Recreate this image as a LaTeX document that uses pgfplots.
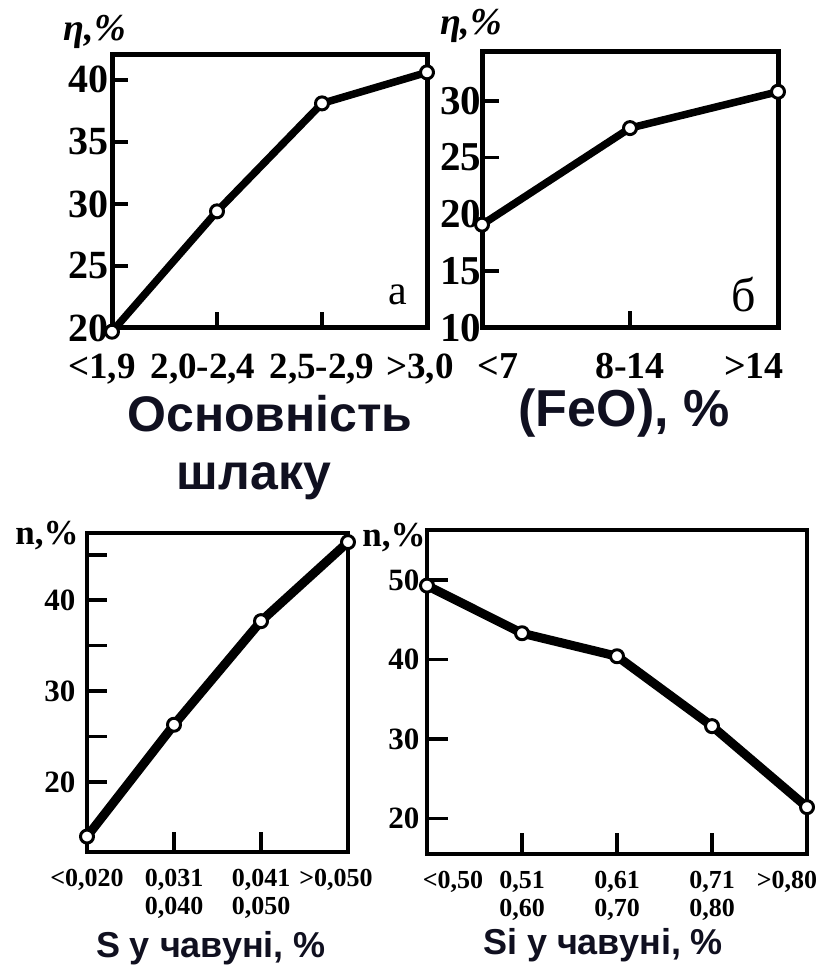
\documentclass[border=0pt]{standalone}
\usepackage{fontspec}
\setmainfont{Liberation Serif}
\newfontfamily\sansf{Liberation Sans}
\usepackage{pgfplots}
\pgfplotsset{compat=1.18}
\definecolor{titlecol}{HTML}{101020}

% one panel of the figure: box, inward ticks, bold serif numbers
\pgfplotsset{
  panel/.style={
    scale only axis, clip=false, anchor=south west,
    axis line style={line width=#1, line cap=rect},
    tick align=inside, tick pos=left,
    tick style={black, line width=3.5pt},
    extra x tick style={major tick length=0pt},
    extra y tick style={major tick length=0pt},
  },
  curve/.style={
    black, line width=#1, line join=round,
    mark=*, mark size=6.5pt,
    mark options={fill=white, draw=black, line width=3pt, solid},
  },
}

\begin{document}
\begin{tikzpicture}
\useasboundingbox (0,0) rectangle (821pt,966pt);

% ---- a: basicity of slag
\begin{axis}[panel=5pt, at={(112pt,638pt)}, width=315pt, height=273pt,
  xmin=0, xmax=3, ymin=20, ymax=42,
  major tick length=16pt,
  xtick={1,2}, xticklabels={{2,0-2,4\hspace*{28pt}},{2,5-2,9}},
  extra x ticks={0,3}, extra x tick labels={{<1,9\hspace*{20pt}},{>3,0\hspace*{14pt}}},
  ytick={20,25,30,35,40}, yticklabels={20,25,30,35,40},
  yticklabel style={font=\fontsize{40}{40}\selectfont\bfseries},
  xticklabel style={font=\fontsize{37}{37}\selectfont\bfseries, yshift=-22pt},
]
\addplot[curve=7.5pt] coordinates {(0,19.7) (1,29.4) (2,38.1) (3,40.6)};
\end{axis}

% ---- b: FeO
\begin{axis}[panel=5pt, at={(482pt,638pt)}, width=296pt, height=276pt,
  xmin=0, xmax=2, ymin=10, ymax=34.3,
  major tick length=17pt,
  xtick={1}, xticklabels={8-14},
  extra x ticks={0,2}, extra x tick labels={{\hspace*{32pt}<7},{>14\hspace*{48pt}}},
  ytick={10,15,25,30}, yticklabels={10,15,25,30},
  extra y ticks={20}, extra y tick labels={20},
  yticklabel style={font=\fontsize{41}{41}\selectfont\bfseries, xshift=3pt},
  xticklabel style={font=\fontsize{38}{38}\selectfont\bfseries, yshift=-22pt},
]
\addplot[curve=7.5pt] coordinates {(0,19.1) (1,27.6) (2,30.8)};
\end{axis}

% ---- c: S in iron
\begin{axis}[panel=4pt, at={(87pt,114pt)}, width=261pt, height=319pt,
  xmin=0, xmax=3, ymin=12.3, ymax=47.4,
  major tick length=20pt,
  xtick={1,2}, xticklabels={{0,031\\0,040},{0,041\\0,050}},
  extra x ticks={0,3}, extra x tick labels={{<0,020},{>0,050\hspace*{24pt}}},
  ytick={20,25,30,35,40,45}, yticklabels={20,,30,,40,},
  yticklabel style={font=\fontsize{31}{31}\selectfont\bfseries, xshift=-8pt},
  xticklabel style={font=\fontsize{26}{28}\selectfont\bfseries, align=center, yshift=-14pt},
]
\addplot[curve=9pt] coordinates {(0,14.0) (1,26.3) (2,37.7) (3,46.4)};
\end{axis}

% ---- d: Si in iron
\begin{axis}[panel=4pt, at={(427pt,112pt)}, width=380pt, height=324pt,
  xmin=0, xmax=4, ymin=15.5, ymax=56.3,
  major tick length=21pt,
  xtick={1,2,3}, xticklabels={{0,51\\0,60},{0,61\\0,70},{0,71\\0,80}},
  extra x ticks={0,4}, extra x tick labels={{\hspace*{52pt}<0,50},{>0,80\hspace*{40pt}}},
  ytick={20,30,40,50}, yticklabels={20,30,40,50},
  yticklabel style={font=\fontsize{31}{31}\selectfont\bfseries, xshift=-4pt},
  xticklabel style={font=\fontsize{26}{28}\selectfont\bfseries, align=center, yshift=-14pt},
]
\addplot[curve=9pt] coordinates {(0,49.3) (1,43.3) (2,40.4) (3,31.6) (4,21.4)};
\end{axis}

% axis names
\node at (95pt,934pt) {\fontsize{38}{38}\selectfont\bfseries\itshape η,\%};
\node at (471pt,940pt) {\fontsize{38}{38}\selectfont\bfseries\itshape η,\%};
\node at (47pt,430pt) {\fontsize{35}{35}\selectfont\bfseries n,\%};
\node at (394pt,428pt) {\fontsize{35}{35}\selectfont\bfseries n,\%};

\node[anchor=base, titlecol] at (270pt,534pt) {\sansf\bfseries\fontsize{50}{50}\selectfont Основність};
\node[anchor=base, titlecol] at (254pt,476pt) {\sansf\bfseries\fontsize{50}{50}\selectfont шлаку};
\node[anchor=base, titlecol] at (624pt,539pt) {\sansf\bfseries\fontsize{52}{52}\selectfont (FeO), \%};
\node[anchor=base, titlecol] at (211pt,9pt) {\sansf\bfseries\fontsize{36}{36}\selectfont S у чавуні, \%};
\node[anchor=base, titlecol] at (603pt,12pt) {\sansf\bfseries\fontsize{36}{36}\selectfont Si у чавуні, \%};

% panel letters
\node at (398pt,671pt) {\fontsize{42}{42}\selectfont a};
\node at (744pt,671pt) {\fontsize{48}{48}\selectfont б};
\end{tikzpicture}
\end{document}
